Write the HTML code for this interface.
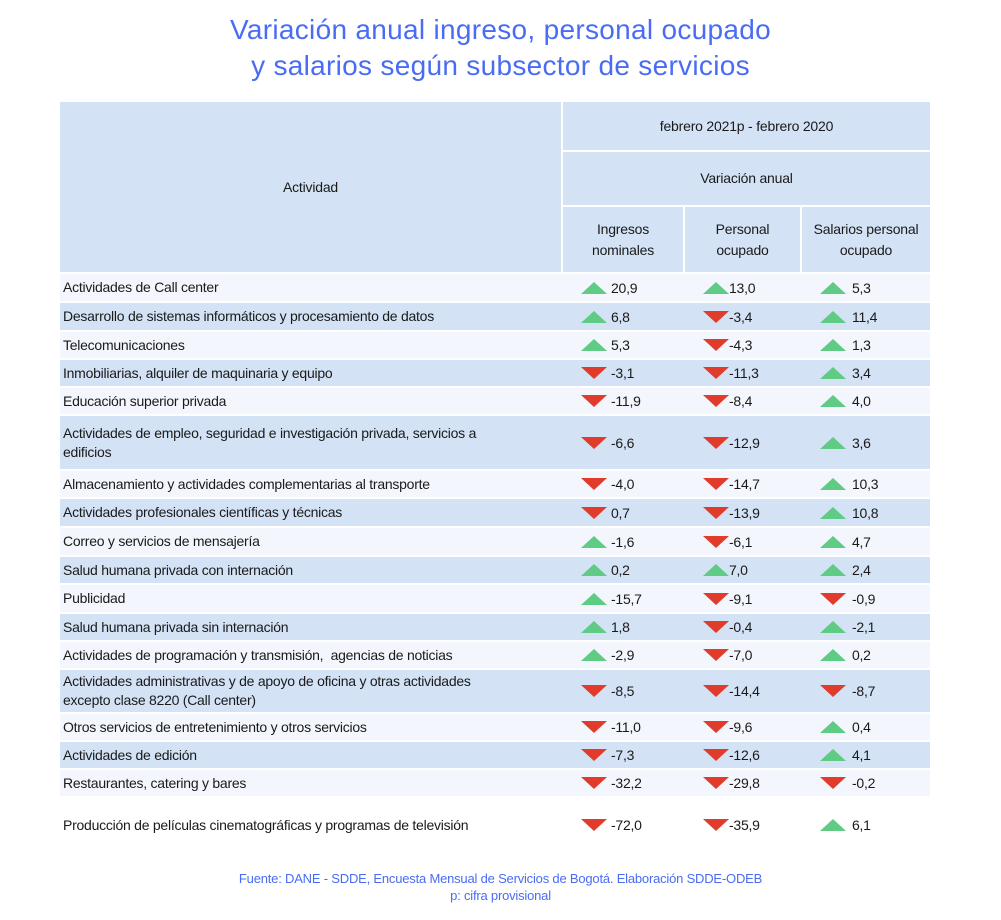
<!DOCTYPE html>
<html><head><meta charset="utf-8"><style>
*{margin:0;padding:0;box-sizing:border-box}
body{width:1001px;height:920px;background:#fff;position:relative;font-family:"Liberation Sans",sans-serif;color:#1a1a1a;overflow:hidden}
.t{position:absolute;left:0;width:1001px;text-align:center;color:#4a6cf4;font-size:28px;letter-spacing:0.3px;font-weight:300}
.h{position:absolute;background:#d3e2f5;display:flex;align-items:center;justify-content:center;text-align:center;font-size:14px;letter-spacing:-0.2px;line-height:21px}
.r{position:absolute;left:60px;width:870px;font-size:14px;letter-spacing:-0.25px}
.r div{position:absolute;top:0;height:100%;display:flex;align-items:center}
.a{left:0;width:501px;padding-left:3px;line-height:19px}
.b{left:503px;width:120px}.c{left:625px;width:115px}.d{left:742px;width:128px}
.L{background:#f3f6fd}.B{background:#d3e2f5}
.L div,.B div{background:inherit}
.u,.n{display:inline-block;width:0;height:0;border-left:13px solid transparent;border-right:13px solid transparent;margin-right:3px}
.u{border-bottom:12px solid #5fcb85}.n{border-top:12px solid #e03b2b}
.b i{position:absolute;left:18px}.b span{position:absolute;left:48px}
.c i{position:absolute;left:18px}.c span{position:absolute;left:44px}
.d i{position:absolute;left:18px}.d span{position:absolute;left:50px}
.f{position:absolute;left:0;width:1001px;text-align:center;color:#4a6cf4;font-size:13px;letter-spacing:-0.2px}
</style></head><body>
<div class="t" style="top:14px">Variación anual ingreso, personal ocupado</div>
<div class="t" style="top:50px">y salarios según subsector de servicios</div>

<div class="h" style="left:60px;top:102px;width:501px;height:170px">Actividad</div>
<div class="h" style="left:563px;top:102px;width:367px;height:48px">febrero 2021p - febrero 2020</div>
<div class="h" style="left:563px;top:152px;width:367px;height:53px">Variación anual</div>
<div class="h" style="left:563px;top:207px;width:120px;height:65px">Ingresos<br>nominales</div>
<div class="h" style="left:685px;top:207px;width:115px;height:65px">Personal<br>ocupado</div>
<div class="h" style="left:802px;top:207px;width:128px;height:65px">Salarios personal<br>ocupado</div>

<div class="r L" style="top:274px;height:27px"><div class="a">Actividades de Call center</div><div class="b"><i class="u"></i><span>20,9</span></div><div class="c"><i class="u"></i><span>13,0</span></div><div class="d"><i class="u"></i><span>5,3</span></div></div>
<div class="r B" style="top:303px;height:27px"><div class="a">Desarrollo de sistemas informáticos y procesamiento de datos</div><div class="b"><i class="u"></i><span>6,8</span></div><div class="c"><i class="n"></i><span>-3,4</span></div><div class="d"><i class="u"></i><span>11,4</span></div></div>
<div class="r L" style="top:332px;height:26px"><div class="a">Telecomunicaciones</div><div class="b"><i class="u"></i><span>5,3</span></div><div class="c"><i class="n"></i><span>-4,3</span></div><div class="d"><i class="u"></i><span>1,3</span></div></div>
<div class="r B" style="top:360px;height:26px"><div class="a">Inmobiliarias, alquiler de maquinaria y equipo</div><div class="b"><i class="n"></i><span>-3,1</span></div><div class="c"><i class="n"></i><span>-11,3</span></div><div class="d"><i class="u"></i><span>3,4</span></div></div>
<div class="r L" style="top:388px;height:26px"><div class="a">Educación superior privada</div><div class="b"><i class="n"></i><span>-11,9</span></div><div class="c"><i class="n"></i><span>-8,4</span></div><div class="d"><i class="u"></i><span>4,0</span></div></div>
<div class="r B" style="top:416px;height:53px"><div class="a">Actividades de empleo, seguridad e investigación privada, servicios a<br>edificios</div><div class="b"><i class="n"></i><span>-6,6</span></div><div class="c"><i class="n"></i><span>-12,9</span></div><div class="d"><i class="u"></i><span>3,6</span></div></div>
<div class="r L" style="top:471px;height:26px"><div class="a">Almacenamiento y actividades complementarias al transporte</div><div class="b"><i class="n"></i><span>-4,0</span></div><div class="c"><i class="n"></i><span>-14,7</span></div><div class="d"><i class="u"></i><span>10,3</span></div></div>
<div class="r B" style="top:499px;height:27px"><div class="a">Actividades profesionales científicas y técnicas</div><div class="b"><i class="n"></i><span>0,7</span></div><div class="c"><i class="n"></i><span>-13,9</span></div><div class="d"><i class="u"></i><span>10,8</span></div></div>
<div class="r L" style="top:528px;height:27px"><div class="a">Correo y servicios de mensajería</div><div class="b"><i class="u"></i><span>-1,6</span></div><div class="c"><i class="n"></i><span>-6,1</span></div><div class="d"><i class="u"></i><span>4,7</span></div></div>
<div class="r B" style="top:557px;height:26px"><div class="a">Salud humana privada con internación</div><div class="b"><i class="u"></i><span>0,2</span></div><div class="c"><i class="u"></i><span>7,0</span></div><div class="d"><i class="u"></i><span>2,4</span></div></div>
<div class="r L" style="top:585px;height:27px"><div class="a">Publicidad</div><div class="b"><i class="u"></i><span>-15,7</span></div><div class="c"><i class="n"></i><span>-9,1</span></div><div class="d"><i class="n"></i><span>-0,9</span></div></div>
<div class="r B" style="top:614px;height:26px"><div class="a">Salud humana privada sin internación</div><div class="b"><i class="u"></i><span>1,8</span></div><div class="c"><i class="n"></i><span>-0,4</span></div><div class="d"><i class="u"></i><span>-2,1</span></div></div>
<div class="r L" style="top:642px;height:26px"><div class="a">Actividades de programación y transmisión,&nbsp; agencias de noticias</div><div class="b"><i class="u"></i><span>-2,9</span></div><div class="c"><i class="n"></i><span>-7,0</span></div><div class="d"><i class="u"></i><span>0,2</span></div></div>
<div class="r B" style="top:670px;height:42px"><div class="a">Actividades administrativas y de apoyo de oficina y otras actividades<br>excepto clase 8220 (Call center)</div><div class="b"><i class="n"></i><span>-8,5</span></div><div class="c"><i class="n"></i><span>-14,4</span></div><div class="d"><i class="n"></i><span>-8,7</span></div></div>
<div class="r L" style="top:714px;height:26px"><div class="a">Otros servicios de entretenimiento y otros servicios</div><div class="b"><i class="n"></i><span>-11,0</span></div><div class="c"><i class="n"></i><span>-9,6</span></div><div class="d"><i class="u"></i><span>0,4</span></div></div>
<div class="r B" style="top:742px;height:26px"><div class="a">Actividades de edición</div><div class="b"><i class="n"></i><span>-7,3</span></div><div class="c"><i class="n"></i><span>-12,6</span></div><div class="d"><i class="u"></i><span>4,1</span></div></div>
<div class="r L" style="top:770px;height:26px"><div class="a">Restaurantes, catering y bares</div><div class="b"><i class="n"></i><span>-32,2</span></div><div class="c"><i class="n"></i><span>-29,8</span></div><div class="d"><i class="n"></i><span>-0,2</span></div></div>
<div class="r" style="top:798px;height:54px"><div class="a">Producción de películas cinematográficas y programas de televisión</div><div class="b"><i class="n"></i><span>-72,0</span></div><div class="c"><i class="n"></i><span>-35,9</span></div><div class="d"><i class="u"></i><span>6,1</span></div></div>

<div class="f" style="top:871px">Fuente: DANE - SDDE, Encuesta Mensual de Servicios de Bogotá. Elaboración SDDE-ODEB</div>
<div class="f" style="top:888px">p: cifra provisional</div>
</body></html>
